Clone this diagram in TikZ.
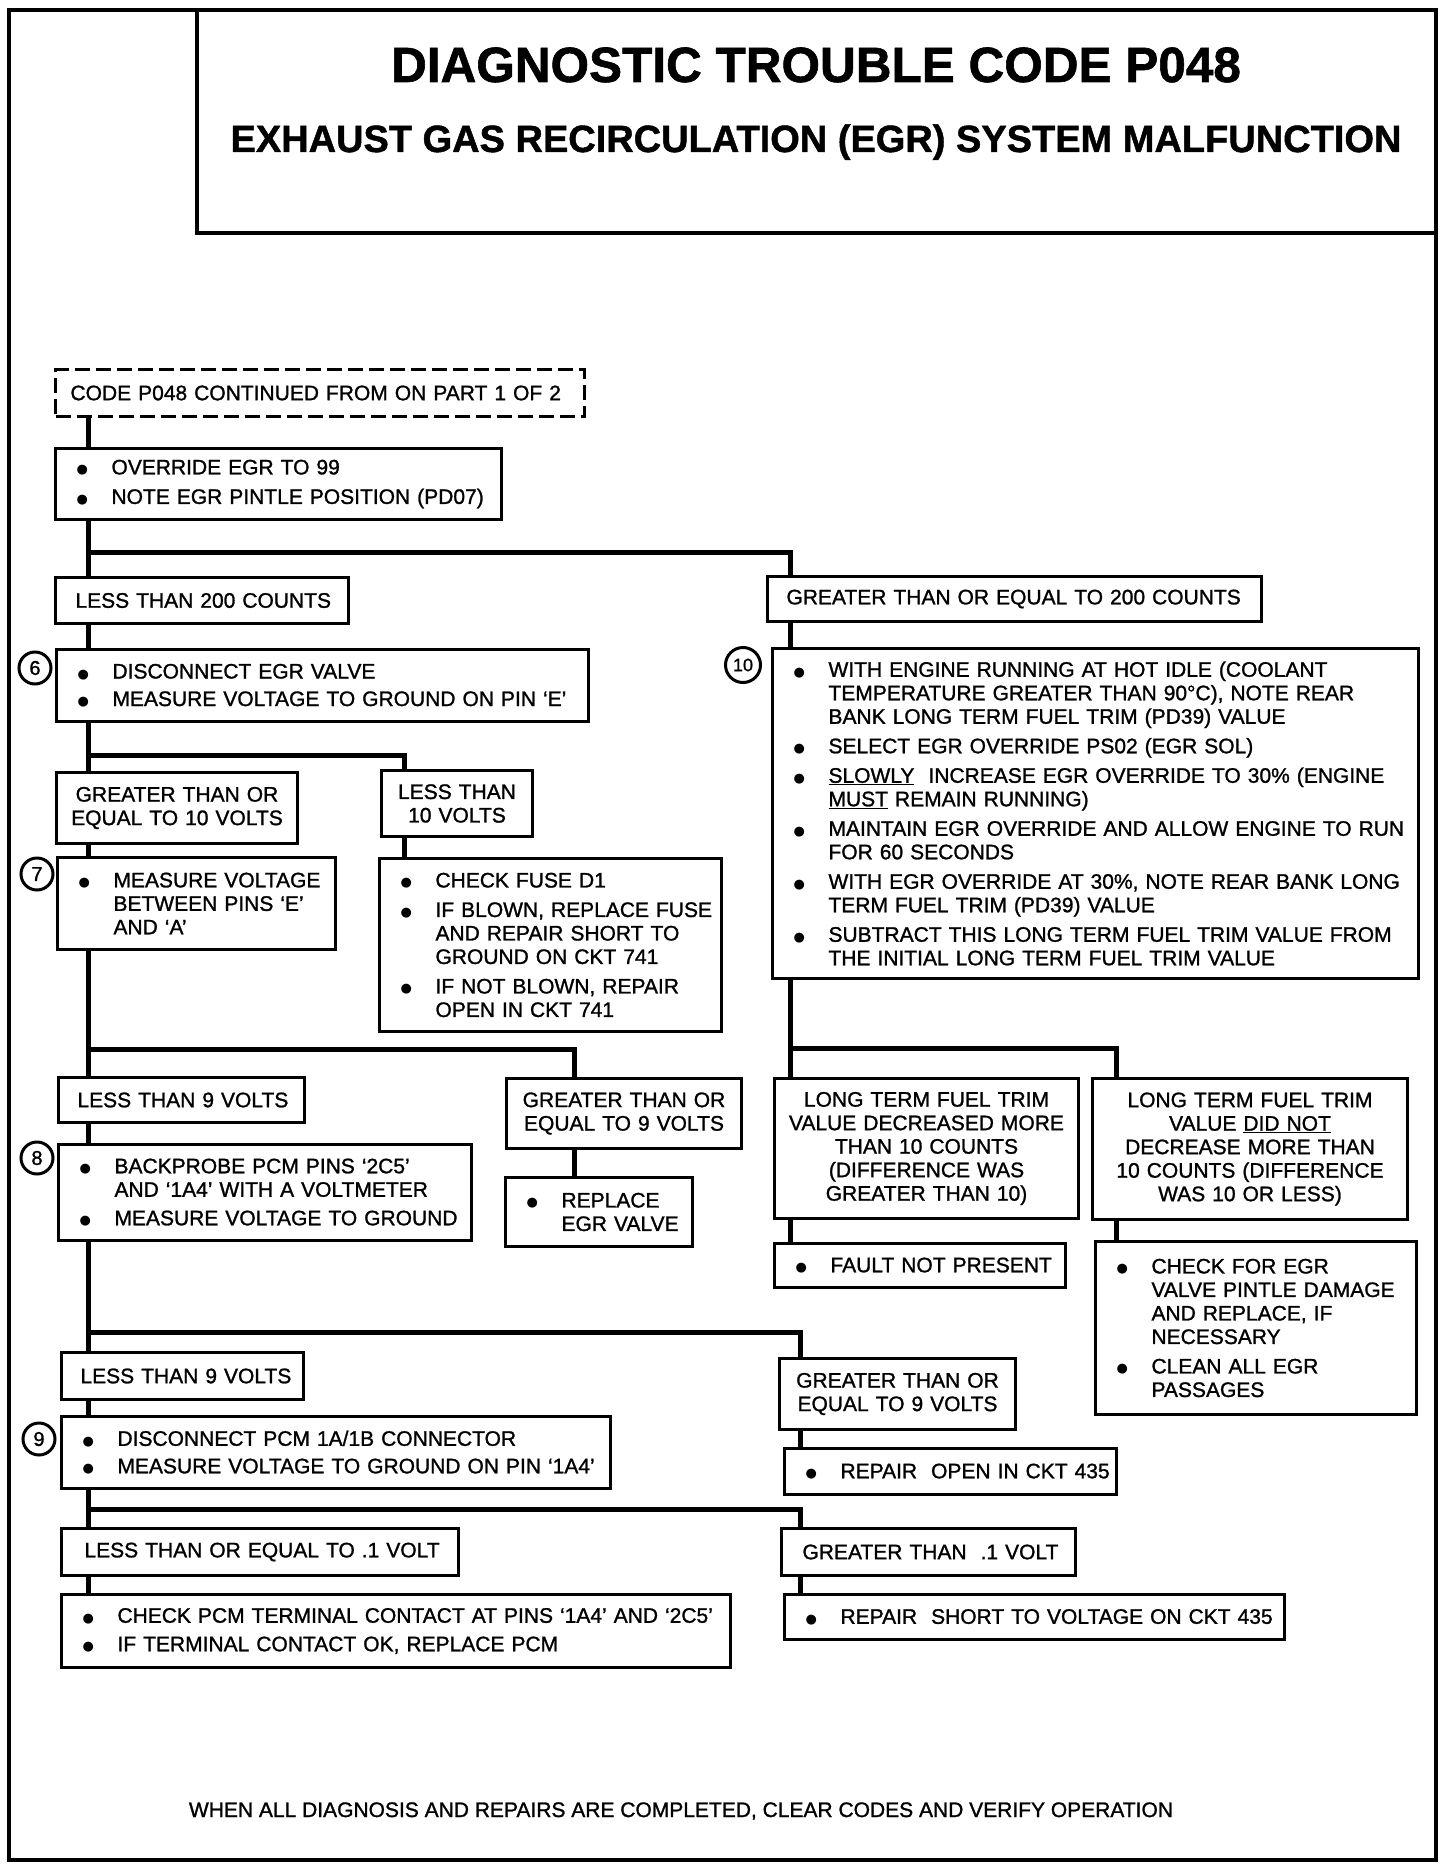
\documentclass[tikz,border=0pt]{standalone}
\usepackage{fontspec}
\setmainfont{Liberation Sans}
\newfontfamily\heavyfont{Liberation Sans}[FakeBold=1.2, Ligatures=TeX]
\newfontfamily\symfont{DejaVu Sans}
\usetikzlibrary{backgrounds}

\newcommand\bodyfont{\heavyfont\fontsize{21pt}{23.5pt}\selectfont}
% bullet line, continued line, plain label line
\newcommand\dotmark{\raisebox{0.5pt}{\symfont\fontsize{13pt}{0pt}\selectfont ●}}
\newcommand\bi[1]{\hspace*{21pt}\makebox[35pt][l]{\dotmark}\mbox{#1}}
\newcommand\ci[1]{\hspace*{56pt}\mbox{#1}}
\newcommand\lb[2][19]{\hspace*{#1pt}\mbox{#2}}

\begin{document}
\begin{tikzpicture}[x=1pt, y=-1pt,
  box/.style={draw, line width=3pt, fill=white, anchor=north west, inner xsep=0pt, inner ysep=0pt, align=left, font=\bodyfont},
  cbox/.style={box, align=center},
  num/.style={circle, draw, line width=3pt, inner sep=0pt, minimum size=32pt, font=\heavyfont\fontsize{20pt}{20pt}\selectfont},
  conn/.style={line width=5pt}]
  \useasboundingbox (0,0) rectangle (1440,1870);

  % frame and title
  \draw[line width=3.5pt] (9,10) rectangle (1436,1860);
  \draw[line width=3.5pt] (197,10) rectangle (1436,233);
  \node[anchor=base, font=\heavyfont\fontsize{49.5pt}{50pt}\selectfont\bfseries] (title) at (816,82) {DIAGNOSTIC TROUBLE CODE P048};
  \node[anchor=base, font=\heavyfont\fontsize{38pt}{38pt}\selectfont\bfseries] (subtitle) at (816,152) {EXHAUST GAS RECIRCULATION (EGR) SYSTEM MALFUNCTION};

  % left column
  \node[box, dash pattern=on 15pt off 6pt, text width=529pt, minimum height=47pt] (cont) at (54,368) {\lb[15]{CODE P048 CONTINUED FROM ON PART 1 OF 2}};
  \node[box, text width=446pt, minimum height=71pt] (override) at (54,447) {\bi{OVERRIDE EGR TO 99}\\[6pt]\bi{NOTE EGR PINTLE POSITION (PD07)}};
  \node[box, text width=293pt, minimum height=46pt] (lt200) at (54,576) {\lb[20]{LESS THAN 200 COUNTS}};
  \node[box, text width=532pt, minimum height=72pt] (step6) at (55,648) {\bi{DISCONNECT EGR VALVE}\\[4pt]\bi{MEASURE VOLTAGE TO GROUND ON PIN ‘E’}};
  \node[cbox, text width=241pt, minimum height=71pt] (ge10) at (55,771) {\mbox{GREATER THAN OR}\\\mbox{EQUAL TO 10 VOLTS}};
  \node[cbox, text width=151pt, minimum height=66pt] (lt10) at (380,769) {\mbox{LESS THAN}\\\mbox{10 VOLTS}};
  \node[box, text width=278pt, minimum height=92pt] (step7) at (56,856) {\bi{MEASURE VOLTAGE}\\\ci{BETWEEN PINS ‘E’}\\\ci{AND ‘A’}};
  \node[box, text width=342pt, minimum height=173pt] (fuse) at (378,857) {\bi{CHECK FUSE D1}\\[6pt]\bi{IF BLOWN, REPLACE FUSE}\\\ci{AND REPAIR SHORT TO}\\\ci{GROUND ON CKT 741}\\[6pt]\bi{IF NOT BLOWN, REPAIR}\\\ci{OPEN IN CKT 741}};
  \node[box, text width=246pt, minimum height=45pt] (lt9a) at (57,1076) {\lb{LESS THAN 9 VOLTS}};
  \node[cbox, text width=235pt, minimum height=70pt] (ge9a) at (505,1077) {\mbox{GREATER THAN OR}\\\mbox{EQUAL TO 9 VOLTS}};
  \node[box, text width=413pt, minimum height=96pt] (step8) at (57,1143) {\bi{BACKPROBE PCM PINS ‘2C5’}\\\ci{AND ‘1A4’ WITH A VOLTMETER}\\[5pt]\bi{MEASURE VOLTAGE TO GROUND}};
  \node[box, text width=187pt, minimum height=69pt] (replace) at (504,1176) {\bi{REPLACE}\\\ci{EGR VALVE}};
  \node[box, text width=242pt, minimum height=47pt] (lt9b) at (60,1351) {\lb{LESS THAN 9 VOLTS}};
  \node[cbox, text width=236pt, minimum height=71pt] (ge9b) at (778,1357) {\mbox{GREATER THAN OR}\\\mbox{EQUAL TO 9 VOLTS}};
  \node[box, text width=549pt, minimum height=72pt] (step9) at (60,1415) {\bi{DISCONNECT PCM 1A/1B CONNECTOR}\\[4pt]\bi{MEASURE VOLTAGE TO GROUND ON PIN ‘1A4’}};
  \node[box, text width=332pt, minimum height=46pt] (open435) at (783,1447) {\bi{REPAIR\ \ OPEN IN CKT 435}};
  \node[box, text width=397pt, minimum height=47pt] (le01) at (60,1527) {\lb[23]{LESS THAN OR EQUAL TO .1 VOLT}};
  \node[box, text width=294pt, minimum height=47pt] (gt01) at (780,1527) {\lb[21]{GREATER THAN\ \ .1 VOLT}};
  \node[box, text width=669pt, minimum height=73pt] (pcm) at (60,1593) {\bi{CHECK PCM TERMINAL CONTACT AT PINS ‘1A4’ AND ‘2C5’}\\[5pt]\bi{IF TERMINAL CONTACT OK, REPLACE PCM}};
  \node[box, text width=500pt, minimum height=45pt] (short435) at (783,1593) {\bi{REPAIR\ \ SHORT TO VOLTAGE ON CKT 435}};

  % right column
  \node[box, text width=494pt, minimum height=45pt] (ge200) at (766,575) {\lb{GREATER THAN OR EQUAL TO 200 COUNTS}};
  \node[box, text width=646pt, minimum height=330pt] (step10) at (771,647) {\bi{WITH ENGINE RUNNING AT HOT IDLE (COOLANT}\\\ci{TEMPERATURE GREATER THAN 90°C), NOTE REAR}\\\ci{BANK LONG TERM FUEL TRIM (PD39) VALUE}\\[6pt]\bi{SELECT EGR OVERRIDE PS02 (EGR SOL)}\\[6pt]\bi{\underline{SLOWLY}\ \ INCREASE EGR OVERRIDE TO 30\% (ENGINE}\\\ci{\underline{MUST} REMAIN RUNNING)}\\[6pt]\bi{MAINTAIN EGR OVERRIDE AND ALLOW ENGINE TO RUN}\\\ci{FOR 60 SECONDS}\\[6pt]\bi{WITH EGR OVERRIDE AT 30\%, NOTE REAR BANK LONG}\\\ci{TERM FUEL TRIM (PD39) VALUE}\\[6pt]\bi{SUBTRACT THIS LONG TERM FUEL TRIM VALUE FROM}\\\ci{THE INITIAL LONG TERM FUEL TRIM VALUE}};
  \node[cbox, text width=304pt, minimum height=140pt] (ltftdec) at (773,1077) {\mbox{LONG TERM FUEL TRIM}\\\mbox{VALUE DECREASED MORE}\\\mbox{THAN 10 COUNTS}\\\mbox{(DIFFERENCE WAS}\\\mbox{GREATER THAN 10)}};
  \node[cbox, text width=315pt, minimum height=141pt] (ltftnot) at (1091,1077) {\mbox{LONG TERM FUEL TRIM}\\\mbox{VALUE \underline{DID NOT}}\\\mbox{DECREASE MORE THAN}\\\mbox{10 COUNTS (DIFFERENCE}\\\mbox{WAS 10 OR LESS)}};
  \node[box, text width=291pt, minimum height=44pt] (nofault) at (773,1242) {\bi{FAULT NOT PRESENT}};
  \node[box, text width=321pt, minimum height=173pt] (pintle) at (1094,1240) {\bi{CHECK FOR EGR}\\\ci{VALVE PINTLE DAMAGE}\\\ci{AND REPLACE, IF}\\\ci{NECESSARY}\\[6pt]\bi{CLEAN ALL EGR}\\\ci{PASSAGES}};

  % step numbers
  \node[num] (n6) at (35,668) {6};
  \node[num] (n7) at (37,874) {7};
  \node[num] (n8) at (37,1158) {8};
  \node[num] (n9) at (39,1439) {9};
  \node[num, minimum size=35pt, font=\heavyfont\fontsize{18pt}{18pt}\selectfont] (n10) at (743,665) {10};

  \node[anchor=base, font=\bodyfont] (footer) at (681,1817) {WHEN ALL DIAGNOSIS AND REPAIRS ARE COMPLETED, CLEAR CODES AND VERIFY OPERATION};

  % connectors
  \coordinate (lx) at (88,0);
  \coordinate (rx) at (790,0);
  \coordinate (x10) at (404,0);
  \coordinate (x9) at (574,0);
  \coordinate (sx) at (800,0);
  \coordinate (tx) at (1116,0);
  \coordinate (j1) at (88,552);
  \coordinate (j2) at (88,755);
  \coordinate (j3) at (88,1049);
  \coordinate (j4) at (88,1332);
  \coordinate (j5) at (88,1509);
  \coordinate (j6) at (790,1048);
  \begin{scope}[on background layer]
    \fill[white] (0,0) rectangle (1440,1870);
    \draw[conn] (lx |- cont.south) -- (lx |- override.north);
    \draw[conn] (lx |- override.south) -- (lx |- lt200.north);
    \draw[conn] (j1) -| (rx |- ge200.north);
    \draw[conn] (lx |- lt200.south) -- (lx |- step6.north);
    \draw[conn] (lx |- step6.south) -- (lx |- ge10.north);
    \draw[conn] (j2) -| (x10 |- lt10.north);
    \draw[conn] (lx |- ge10.south) -- (lx |- step7.north);
    \draw[conn] (x10 |- lt10.south) -- (x10 |- fuse.north);
    \draw[conn] (lx |- step7.south) -- (lx |- lt9a.north);
    \draw[conn] (j3) -| (x9 |- ge9a.north);
    \draw[conn] (x9 |- ge9a.south) -- (x9 |- replace.north);
    \draw[conn] (lx |- lt9a.south) -- (lx |- step8.north);
    \draw[conn] (lx |- step8.south) -- (lx |- lt9b.north);
    \draw[conn] (j4) -| (sx |- ge9b.north);
    \draw[conn] (sx |- ge9b.south) -- (sx |- open435.north);
    \draw[conn] (lx |- lt9b.south) -- (lx |- step9.north);
    \draw[conn] (lx |- step9.south) -- (lx |- le01.north);
    \draw[conn] (j5) -| (sx |- gt01.north);
    \draw[conn] (lx |- le01.south) -- (lx |- pcm.north);
    \draw[conn] (sx |- gt01.south) -- (sx |- short435.north);
    \draw[conn] (rx |- ge200.south) -- (rx |- step10.north);
    \draw[conn] (rx |- step10.south) -- (rx |- ltftdec.north);
    \draw[conn] (j6) -| (tx |- ltftnot.north);
    \draw[conn] (rx |- ltftdec.south) -- (rx |- nofault.north);
    \draw[conn] (tx |- ltftnot.south) -- (tx |- pintle.north);
  \end{scope}
\end{tikzpicture}
\end{document}
